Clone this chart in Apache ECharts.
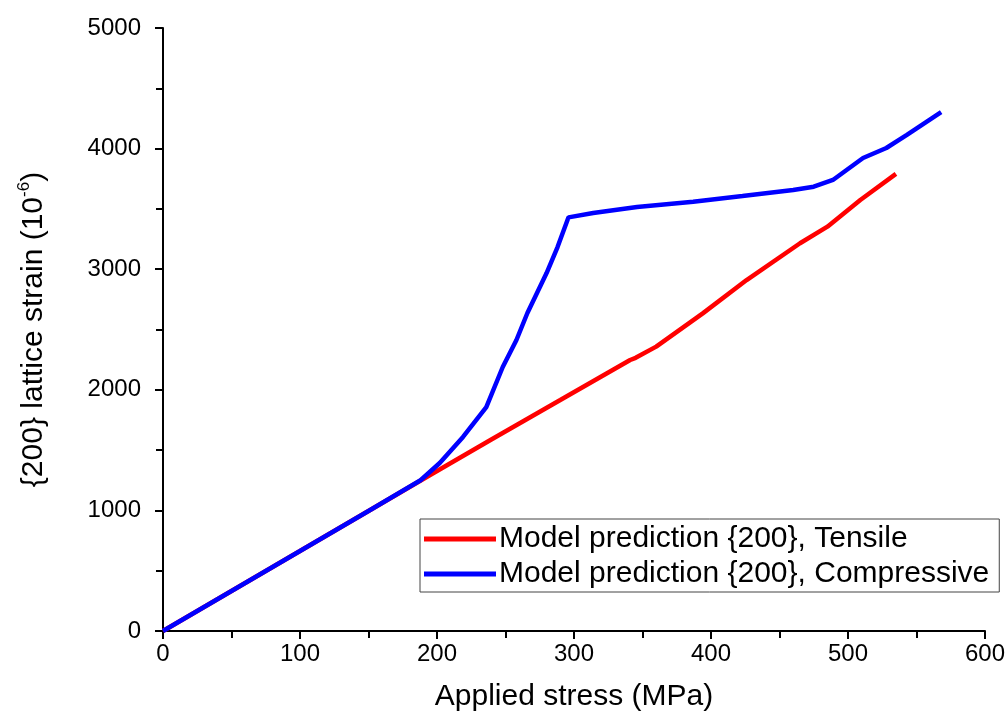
<!DOCTYPE html>
<html>
<head>
<meta charset="utf-8">
<script src="https://cdn.jsdelivr.net/npm/echarts@6/dist/echarts.min.js"></script>
<style>
  html, body { margin: 0; padding: 0; background: #fff; }
  #chart { width: 1008px; height: 728px; }
</style>
</head>
<body>
<div id="chart"></div>
<script>
// Applied stress (MPa) and {200} lattice strain (1e-6)
const tensileStress = [0, 50, 100, 150, 195, 240, 290, 341, 345, 360, 394, 426, 465, 485, 509, 535];
const tensileStrain = [0, 332, 663, 995, 1294, 1590, 1915, 2247, 2265, 2358, 2634, 2910, 3215, 3353, 3574, 3790];

const compStress = [0, 50, 100, 150, 188, 202, 219, 236, 248, 258, 266, 280, 288, 296, 314, 346, 387, 423, 460, 475, 489, 511, 528, 543, 568];
const compStrain = [0, 332, 663, 995, 1250, 1393, 1609, 1857, 2189, 2413, 2637, 2968, 3184, 3430, 3466, 3516, 3560, 3607, 3657, 3684, 3740, 3922, 4005, 4113, 4303];

const xTicks = { min: 0, max: 600, interval: 100 };
const yTicks = { min: 0, max: 5000, interval: 1000 };

const seriesNames = ['Model prediction {200}, Tensile', 'Model prediction {200}, Compressive'];

const FONT = 'Arial, "Liberation Sans", sans-serif';

function pairs(xs, ys) { return xs.map((x, i) => [x, ys[i]]); }

const chart = echarts.init(document.getElementById('chart'), null, { renderer: 'canvas' });

const axisCommon = {
  axisLine: { show: true, onZero: false, lineStyle: { color: '#000', width: 2 } },
  axisTick: { show: true, inside: false, length: 8, lineStyle: { color: '#000', width: 2 } },
  minorTick: { show: true, splitNumber: 2, length: 7, lineStyle: { color: '#000', width: 2 } },
  splitLine: { show: false },
  nameTextStyle: { color: '#000', fontFamily: FONT, fontSize: 30 }
};

chart.setOption({
  animation: false,
  backgroundColor: '#fff',
  grid: { left: 163, right: 23, top: 28, bottom: 97, containLabel: false },
  xAxis: Object.assign({}, axisCommon, {
    type: 'value',
    min: xTicks.min, max: xTicks.max, interval: xTicks.interval,
    name: 'Applied stress (MPa)',
    nameLocation: 'middle',
    nameGap: 51,
    axisLabel: { color: '#000', fontFamily: FONT, fontSize: 24, margin: 11, formatter: v => String(v) }
  }),
  yAxis: Object.assign({}, axisCommon, {
    type: 'value',
    min: yTicks.min, max: yTicks.max, interval: yTicks.interval,
    name: '{200} lattice strain (10{sup|-6})',
    nameLocation: 'middle',
    nameGap: 112,
    nameRotate: 90,
    nameTextStyle: {
      color: '#000', fontFamily: FONT, fontSize: 30,
      rich: { sup: { fontFamily: FONT, fontSize: 17, verticalAlign: 'top', padding: [0, 0, 18, 0] } }
    },
    axisLabel: { color: '#000', fontFamily: FONT, fontSize: 24, margin: 22, formatter: v => String(v) }
  }),
  legend: {
    show: true,
    orient: 'vertical',
    left: 420,
    top: 519,
    padding: [5, 10, 3, 4],
    itemGap: 5,
    itemWidth: 72,
    itemHeight: 5,
    icon: 'rect',
    borderColor: '#444',
    borderWidth: 1,
    backgroundColor: '#fff',
    textStyle: { color: '#000', fontFamily: FONT, fontSize: 30, padding: [0, 0, 0, -2] },
    data: seriesNames
  },
  series: [
    {
      name: seriesNames[0],
      type: 'line',
      data: pairs(tensileStress, tensileStrain),
      showSymbol: false,
      symbol: 'none',
      lineStyle: { color: '#ff0000', width: 4.5 },
      itemStyle: { color: '#ff0000' },
      z: 2
    },
    {
      name: seriesNames[1],
      type: 'line',
      data: pairs(compStress, compStrain),
      showSymbol: false,
      symbol: 'none',
      lineStyle: { color: '#0000ff', width: 4.5 },
      itemStyle: { color: '#0000ff' },
      z: 3
    }
  ]
});
</script>
</body>
</html>
